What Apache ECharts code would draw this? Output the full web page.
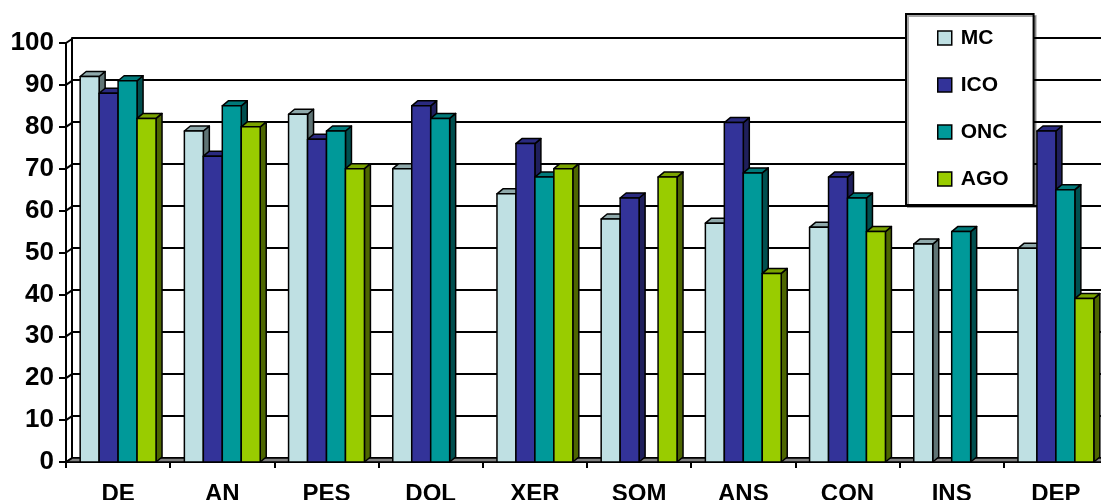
<!DOCTYPE html>
<html>
<head>
<meta charset="utf-8">
<script src="https://cdn.jsdelivr.net/npm/echarts@6/dist/echarts.min.js"></script>
<style>
  html, body { margin: 0; padding: 0; background: #fff; }
  #chart { width: 1101px; height: 500px; }
</style>
</head>
<body>
<div id="chart"></div>
<script>
// Categories and the four series (percent)
const categories = ['DE', 'AN', 'PES', 'DOL', 'XER', 'SOM', 'ANS', 'CON', 'INS', 'DEP'];
const seriesNames = ['MC', 'ICO', 'ONC', 'AGO'];
const mcValues  = [92, 79, 83, 70, 64, 58, 57, 56, 52, 51];
const icoValues = [88, 73, 77, 85, 76, 63, 81, 68, null, 79];
const oncValues = [91, 85, 79, 82, 68, null, 69, 63, 55, 65];
const agoValues = [82, 80, 70, null, 70, 68, 45, 55, null, 39];
const yTicks = [0, 10, 20, 30, 40, 50, 60, 70, 80, 90, 100];

const FONT = '"Liberation Sans", Arial, Helvetica, sans-serif';

// front / top / side face colours of each series
const faces = {
  MC:  ['#BFE0E3', '#8FA9AB', '#5F7475'],
  ICO: ['#333399', '#2A2A80', '#1F1F5C'],
  ONC: ['#009999', '#007A7A', '#004F4F'],
  AGO: ['#99CC00', '#7AA300', '#4D6600']
};
const valuesByName = { MC: mcValues, ICO: icoValues, ONC: oncValues, AGO: agoValues };

// pseudo-3D depth of bars and of the chart walls (pixels)
const BAR_DX = 6, BAR_DY = 5;
const WALL_DX = 6, WALL_DY = 4;
const EDGE = { stroke: '#000', lineWidth: 1.5, lineJoin: 'round' };

function barRenderer(slot, colors) {
  return function (params, api) {
    const idx = api.value(0);
    const top = api.coord([idx, api.value(1)]);
    const base = api.coord([idx, 0]);
    const catW = api.size([1, 0])[0];
    const w = catW * 0.182;
    const x0 = top[0] - 2 * w + slot * w;
    const x1 = x0 + w;
    const ty = top[1], by = base[1];
    return {
      type: 'group',
      children: [
        { type: 'polygon',
          shape: { points: [[x1, ty], [x1 + BAR_DX, ty - BAR_DY], [x1 + BAR_DX, by - BAR_DY], [x1, by]] },
          style: Object.assign({ fill: colors[2] }, EDGE) },
        { type: 'polygon',
          shape: { points: [[x0, ty], [x0 + BAR_DX, ty - BAR_DY], [x1 + BAR_DX, ty - BAR_DY], [x1, ty]] },
          style: Object.assign({ fill: colors[1] }, EDGE) },
        { type: 'rect',
          shape: { x: x0, y: ty, width: w, height: by - ty },
          style: Object.assign({ fill: colors[0] }, EDGE) }
      ]
    };
  };
}

// left wall connectors and the grey floor
function wallRenderer(params, api) {
  const cs = params.coordSys;
  const v = api.value(1);
  const y = api.coord([0, v])[1];
  const children = [{
    type: 'line',
    shape: { x1: cs.x, y1: y, x2: cs.x + WALL_DX, y2: y - WALL_DY },
    style: { stroke: '#000', lineWidth: 2 }
  }];
  if (v === 0) {
    children.unshift({
      type: 'polygon',
      shape: { points: [[cs.x, y], [cs.x + cs.width, y], [cs.x + cs.width + WALL_DX, y - WALL_DY], [cs.x + WALL_DX, y - WALL_DY]] },
      style: Object.assign({ fill: '#808080' }, EDGE)
    });
  }
  return { type: 'group', children: children };
}

const barSeries = seriesNames.map(function (name, slot) {
  const data = [];
  valuesByName[name].forEach(function (v, i) { if (v != null) data.push([i, v]); });
  return {
    name: name,
    type: 'custom',
    xAxisIndex: 0,
    yAxisIndex: 0,
    z: 3,
    clip: false,
    itemStyle: { color: faces[name][0], borderColor: '#000', borderWidth: 1.5 },
    encode: { x: 0, y: 1 },
    renderItem: barRenderer(slot, faces[name]),
    data: data
  };
});

const chart = echarts.init(document.getElementById('chart'), null, { renderer: 'canvas' });
chart.setOption({
  animation: false,
  backgroundColor: '#fff',
  textStyle: { fontFamily: FONT },
  grid: [
    // front plane (axes)
    { left: 66, top: 43, width: 1042, height: 419, containLabel: false, outerBoundsMode: 'none' },
    // back wall (gridlines)
    { left: 72, top: 38, width: 1042, height: 420, containLabel: false, outerBoundsMode: 'none' }
  ],
  legend: {
    data: seriesNames,
    orient: 'vertical',
    left: 906,
    top: 14,
    padding: [13, 25, 15, 31],
    itemGap: 25,
    itemWidth: 14,
    itemHeight: 14,
    icon: 'rect',
    selectedMode: false,
    backgroundColor: '#fff',
    borderColor: '#000',
    borderWidth: 2,
    shadowColor: 'rgba(0,0,0,0.35)',
    shadowOffsetX: 2,
    shadowOffsetY: 2,
    shadowBlur: 0,
    itemStyle: { borderColor: '#000', borderWidth: 1.5 },
    textStyle: { fontFamily: FONT, fontSize: 21, fontWeight: 'bold', color: '#000', lineHeight: 22, padding: [0, 0, 0, 4] },
    z: 10
  },
  xAxis: [
    {
      gridIndex: 0,
      type: 'category',
      data: categories,
      boundaryGap: true,
      axisLine: { show: true, lineStyle: { color: '#000', width: 2 } },
      axisTick: { show: true, length: 6, interval: 0, lineStyle: { color: '#000', width: 2 } },
      axisLabel: { interval: 0, margin: 20, color: '#000', fontFamily: FONT, fontSize: 24, fontWeight: 'bold' },
      splitLine: { show: false }
    },
    {
      gridIndex: 1,
      type: 'category',
      data: categories,
      show: false
    }
  ],
  yAxis: [
    {
      gridIndex: 0,
      type: 'value',
      min: 0,
      max: 100,
      interval: 10,
      axisLine: { show: true, lineStyle: { color: '#000', width: 2 } },
      axisTick: { show: true, length: 7, lineStyle: { color: '#000', width: 2 } },
      axisLabel: { margin: 12, color: '#000', fontFamily: FONT, fontSize: 26, fontWeight: 'bold' },
      splitLine: { show: false }
    },
    {
      gridIndex: 1,
      type: 'value',
      min: 0,
      max: 100,
      interval: 10,
      axisLine: { show: true, lineStyle: { color: '#000', width: 2 } },
      axisTick: { show: false },
      axisLabel: { show: false },
      splitLine: { show: true, lineStyle: { color: '#000', width: 2 } }
    }
  ],
  series: [
    {
      name: 'walls',
      type: 'custom',
      xAxisIndex: 0,
      yAxisIndex: 0,
      z: 1,
      clip: false,
      silent: true,
      encode: { x: 0, y: 1 },
      renderItem: wallRenderer,
      data: yTicks.map(function (v) { return [0, v]; })
    }
  ].concat(barSeries)
});
</script>
</body>
</html>
